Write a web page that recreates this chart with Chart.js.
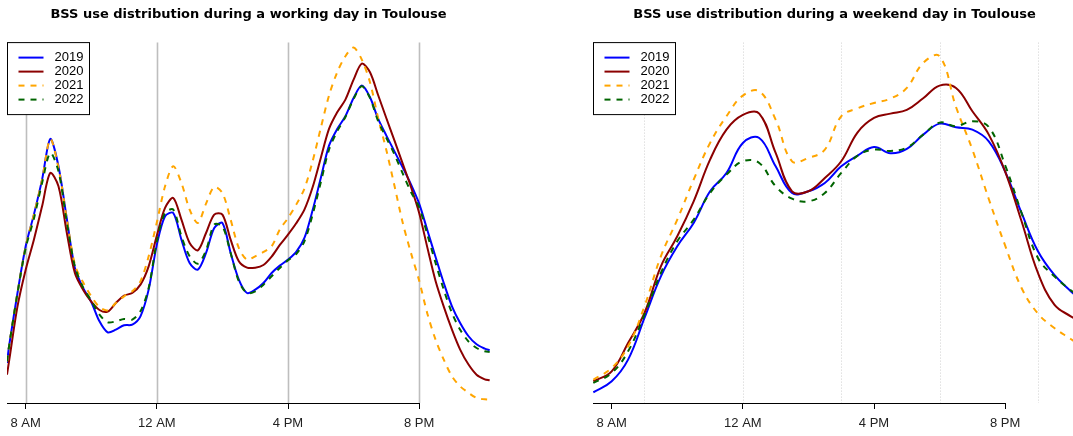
<!DOCTYPE html>
<html>
<head>
<meta charset="utf-8">
<title>BSS use distribution in Toulouse</title>
<script src="https://cdn.jsdelivr.net/npm/chart.js@4.4.1/dist/chart.umd.min.js"></script>
<style>
  body {
    margin: 0;
    width: 1073px;
    height: 436px;
    overflow: hidden;
    background: #fff;
    position: relative;
  }
  canvas { position: absolute; top: 0; }
  #workChart { left: 0; }
  #weekendChart { left: 586px; }
</style>
</head>
<body>
<canvas id="workChart" width="497" height="436"></canvas>
<canvas id="weekendChart" width="497" height="436"></canvas>
<script>
// x axis (hours of the day)
const xStart = 7.43;
const xEnd = 22.16;
const tickHours = [8, 12, 16, 20];
const tickLabels = ["8 AM", "12 AM", "4 PM", "8 PM"];

const years = ["2019", "2020", "2021", "2022"];
const yearColors = ["#0000ff", "#8b0000", "#ffa500", "#006400"];
const yearDashes = [[], [], [6, 6], [6, 6]];

// vertical reference lines
const workGuideHours = [8, 12, 16, 20];
const weekendGuideHours = [9, 12, 15, 18, 21];

// WORKING DAY
const workHours = [7.43, 7.5, 7.75, 8, 8.25, 8.5, 8.75, 9, 9.25, 9.5, 9.75,
    10, 10.25, 10.5, 10.75, 11, 11.25, 11.5, 11.75, 12, 12.25, 12.5, 12.75,
    13, 13.25, 13.5, 13.75, 14, 14.25, 14.5, 14.75, 15, 15.25, 15.5, 15.75,
    16, 16.25, 16.5, 16.75, 17, 17.25, 17.5, 17.75, 18, 18.25, 18.5, 18.75,
    19, 19.25, 19.5, 19.75, 20, 20.25, 20.5, 20.75, 21, 21.25, 21.5, 21.75,
    22, 22.15];

const work2019 = [1.20, 1.75, 3.30, 4.70, 5.65, 6.70, 7.92, 7.10, 5.55, 4.05, 3.45,
    3.03, 2.45, 2.12, 2.20, 2.33, 2.35, 2.60, 3.40, 4.75, 5.60, 5.70, 4.90,
    4.20, 4.00, 4.50, 5.25, 5.40, 4.50, 3.70, 3.30, 3.40, 3.60, 3.90, 4.12,
    4.30, 4.53, 4.95, 5.78, 6.75, 7.72, 8.22, 8.60, 9.15, 9.52, 9.17, 8.52,
    8.02, 7.54, 7.06, 6.56, 5.98, 5.18, 4.38, 3.60, 2.90, 2.40, 2.01, 1.76,
    1.63, 1.58];

const work2020 = [0.85, 1.30, 2.90, 4.00, 4.90, 5.90, 6.90, 6.50, 5.13, 3.90, 3.40,
    3.04, 2.79, 2.74, 3.00, 3.22, 3.30, 3.55, 4.10, 5.02, 5.85, 6.15, 5.50,
    4.80, 4.58, 5.10, 5.65, 5.65, 4.90, 4.25, 4.06, 4.06, 4.14, 4.39, 4.74,
    5.05, 5.39, 5.80, 6.47, 7.35, 8.22, 8.72, 9.10, 9.70, 10.18, 9.92, 9.23,
    8.54, 7.86, 7.17, 6.48, 5.70, 4.66, 3.66, 2.89, 2.20, 1.60, 1.16, 0.85,
    0.71, 0.68];

const work2021 = [1.25, 1.75, 3.30, 4.70, 5.65, 6.70, 7.92, 7.05, 5.55, 4.15, 3.62,
    3.20, 2.88, 2.78, 3.00, 3.20, 3.35, 3.65, 4.40, 5.42, 6.50, 7.10, 6.60,
    5.80, 5.40, 5.98, 6.48, 6.30, 5.50, 4.65, 4.30, 4.40, 4.53, 4.70, 5.20,
    5.55, 5.95, 6.43, 7.25, 8.25, 9.22, 9.92, 10.40, 10.66, 10.30, 9.62, 8.54,
    7.58, 6.50, 5.40, 4.50, 3.67, 2.68, 1.90, 1.30, 0.80, 0.50, 0.31, 0.15,
    0.11, 0.10];

const work2022 = [1.25, 1.75, 3.30, 4.65, 5.53, 6.60, 7.50, 6.95, 5.45, 4.10, 3.47,
    3.07, 2.65, 2.42, 2.45, 2.52, 2.50, 2.75, 3.45, 4.85, 5.70, 5.80, 5.00,
    4.40, 4.18, 4.58, 5.35, 5.30, 4.50, 3.65, 3.30, 3.35, 3.55, 3.80, 4.05,
    4.28, 4.47, 4.85, 5.65, 6.62, 7.60, 8.15, 8.58, 9.12, 9.50, 9.15, 8.45,
    7.95, 7.45, 6.88, 6.33, 5.87, 5.05, 4.20, 3.40, 2.70, 2.20, 1.85, 1.65,
    1.55, 1.53];

// WEEKEND DAY
const weekendHours = [7.44, 8, 8.5, 9, 9.5, 10, 10.5, 11, 11.5, 12, 12.5, 13,
    13.5, 14, 14.5, 15, 15.5, 16, 16.5, 17, 17.5, 18, 18.5, 19, 19.5, 20,
    20.5, 21, 21.5, 22, 22.15];

const weekend2019 = [0.32, 0.65, 1.30, 2.55, 3.80, 4.70, 5.40, 6.35, 6.90, 7.80,
    7.95, 7.10, 6.30, 6.35, 6.60, 7.10, 7.42, 7.68, 7.49, 7.62, 8.05, 8.38,
    8.27, 8.20, 7.85, 6.94, 5.70, 4.55, 3.84, 3.35, 3.22];

const weekend2020 = [0.65, 0.95, 1.80, 2.70, 4.10, 5.00, 6.05, 7.30, 8.20, 8.64,
    8.68, 7.50, 6.35, 6.35, 6.75, 7.25, 8.12, 8.55, 8.68, 8.79, 9.14, 9.52,
    9.45, 8.75, 8.05, 6.94, 5.45, 3.90, 2.95, 2.60, 2.52];

const weekend2021 = [0.70, 1.05, 1.70, 2.90, 4.40, 5.50, 6.70, 7.80, 8.60, 9.22,
    9.35, 8.50, 7.25, 7.35, 7.60, 8.60, 8.84, 9.00, 9.13, 9.45, 10.20, 10.40,
    8.88, 7.60, 6.12, 4.72, 3.45, 2.68, 2.25, 1.92, 1.82];

const weekend2022 = [0.60, 0.90, 1.55, 2.65, 3.90, 4.85, 5.50, 6.30, 6.85, 7.25,
    7.20, 6.50, 6.13, 6.05, 6.30, 6.90, 7.42, 7.60, 7.56, 7.66, 8.05, 8.41,
    8.30, 8.45, 8.28, 7.13, 5.70, 4.35, 3.80, 3.38, 3.28];

Chart.defaults.font.family = "'Liberation Sans', Arial, sans-serif";

function buildDatasets(hours, series, tension) {
    return series.map((values, i) => ({
        label: years[i],
        data: hours.map((h, k) => ({ x: h, y: values[k] })),
        borderColor: yearColors[i],
        borderWidth: 2,
        borderDash: yearDashes[i],
        pointRadius: 0,
        fill: false,
        tension: tension,
        order: series.length - i
    }));
}

// guide lines, short axis line and R-like legend box
function rStyle(guideHours, guideColor, guideWidth, guideDash) {
    return {
        id: "rStyle",
        beforeDatasetsDraw(chart) {
            const { ctx, chartArea, scales } = chart;
            ctx.save();
            ctx.strokeStyle = guideColor;
            ctx.lineWidth = guideWidth;
            ctx.setLineDash(guideDash);
            guideHours.forEach(h => {
                const x = Math.round(scales.x.getPixelForValue(h)) + 0.5;
                ctx.beginPath();
                ctx.moveTo(x, chartArea.top);
                ctx.lineTo(x, chartArea.bottom);
                ctx.stroke();
            });
            ctx.setLineDash([]);
            ctx.strokeStyle = "#000";
            ctx.lineWidth = 1;
            const lastTick = scales.x.getPixelForValue(tickHours[tickHours.length - 1]);
            ctx.beginPath();
            ctx.moveTo(chartArea.left, chartArea.bottom + 0.5);
            ctx.lineTo(Math.round(lastTick) + 0.5, chartArea.bottom + 0.5);
            ctx.stroke();
            ctx.restore();
        },
        afterDatasetsDraw(chart) {
            const { ctx, chartArea } = chart;
            const left = chartArea.left + 0.5;
            const top = chartArea.top;
            ctx.save();
            ctx.fillStyle = "#fff";
            ctx.fillRect(left, top, 82, 72);
            ctx.strokeStyle = "#000";
            ctx.lineWidth = 1;
            ctx.strokeRect(left, top, 82, 72);
            ctx.font = "13px 'Liberation Sans', Arial, sans-serif";
            ctx.textBaseline = "middle";
            chart.data.datasets.forEach((ds, i) => {
                const y = top + 15 + i * 14;
                ctx.strokeStyle = ds.borderColor;
                ctx.lineWidth = ds.borderWidth;
                ctx.setLineDash(ds.borderDash);
                ctx.beginPath();
                ctx.moveTo(left + 11, y);
                ctx.lineTo(left + 36, y);
                ctx.stroke();
                ctx.setLineDash([]);
                ctx.fillStyle = "#000";
                ctx.fillText(ds.label, left + 47, y);
            });
            ctx.restore();
        }
    };
}

function makeChart(canvasId, title, hours, series, tension, plugin) {
    const ctx = document.getElementById(canvasId).getContext("2d");
    return new Chart(ctx, {
        type: "line",
        data: { datasets: buildDatasets(hours, series, tension) },
        plugins: [plugin],
        options: {
            responsive: false,
            animation: false,
            events: [],
            layout: { padding: { left: 7, right: 7, top: 0, bottom: 0 } },
            plugins: {
                legend: { display: false },
                tooltip: { enabled: false },
                title: {
                    display: true,
                    text: title,
                    color: "#000",
                    font: { family: "'DejaVu Sans', sans-serif", size: 13, weight: "bold" },
                    padding: { top: 7, bottom: 20 }
                }
            },
            scales: {
                x: {
                    type: "linear",
                    min: xStart,
                    max: xEnd,
                    afterBuildTicks: scale => {
                        scale.ticks = tickHours.map(v => ({ value: v }));
                    },
                    afterFit: scale => { scale.height = 33; },
                    border: { display: false },
                    grid: {
                        drawOnChartArea: false,
                        drawTicks: true,
                        tickLength: 6,
                        tickColor: "#000"
                    },
                    ticks: {
                        color: "#222",
                        font: { size: 13 },
                        padding: 7,
                        maxRotation: 0,
                        autoSkip: false,
                        callback: v => tickLabels[tickHours.indexOf(v)]
                    }
                },
                y: {
                    display: false,
                    min: 0,
                    max: 10.81
                }
            }
        }
    });
}

makeChart("workChart",
    "BSS use distribution during a working day in Toulouse",
    workHours, [work2019, work2020, work2021, work2022], 0.3,
    rStyle(workGuideHours, "#bebebe", 1.6, []));

makeChart("weekendChart",
    "BSS use distribution during a weekend day in Toulouse",
    weekendHours, [weekend2019, weekend2020, weekend2021, weekend2022], 0.4,
    rStyle(weekendGuideHours, "#d0d0d0", 1, [1, 2]));
</script>
</body>
</html>
